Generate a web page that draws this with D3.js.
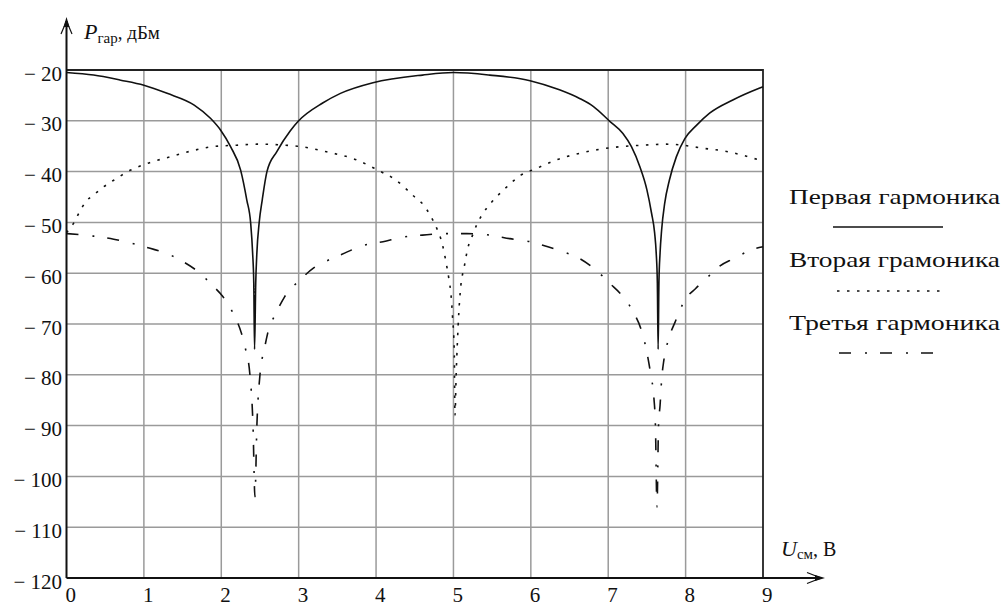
<!DOCTYPE html>
<html>
<head>
<meta charset="utf-8">
<script src="https://cdn.jsdelivr.net/npm/d3@7"></script>
<style>
  body { margin: 0; background: #fff; }
  svg, svg text { font-family: "Liberation Serif", "Times New Roman", Tinos, "DejaVu Serif", serif !important; }
</style>
</head>
<body>
<div id="chart"></div>
<script>
// values
const uTicks = [0, 1, 2, 3, 4, 5, 6, 7, 8, 9];
const pTicks = [-120, -110, -100, -90, -80, -70, -60, -50, -40, -30, -20];

// first harmonic
const u1 = [0, 0.35, 0.7, 1.0, 1.3, 1.65, 1.86, 1.99, 2.12, 2.25, 2.33, 2.38, 2.405, 2.42, 2.43,
  2.445, 2.46, 2.49, 2.53, 2.59, 2.72, 2.89, 3.0, 3.31, 3.54, 3.96, 4.6, 5.0, 5.47, 5.99,
  6.37, 6.63, 6.81, 7.02, 7.19, 7.3, 7.41, 7.5, 7.56, 7.6, 7.62, 7.635, 7.645, 7.655, 7.67,
  7.69, 7.73, 7.79, 7.88, 7.99, 8.14, 8.31, 8.61, 8.95, 9.0];
const p1 = [-20.5, -21, -22, -23, -24.6, -26.9, -29.5, -31.8, -35.1, -39.7, -45.6, -50.2, -56, -62, -75,
  -62, -56, -50, -45.5, -40, -36, -32, -30, -26.5, -24.6, -22.5, -21, -20.5, -21, -22.1,
  -23.9, -25.6, -27.2, -30.1, -32.5, -35.1, -39.1, -43.6, -48.2, -52.1, -56, -62, -75, -62, -56,
  -51.5, -46.2, -41.7, -37.1, -33.5, -30.9, -28.5, -25.9, -23.6, -23.3];

// second harmonic
const u2 = [0, 0.09, 0.16, 0.25, 0.35, 0.48, 0.61, 0.83, 1.04, 1.34, 1.65, 1.88, 2.2, 2.46, 2.98,
  3.36, 3.75, 4.02, 4.25, 4.5, 4.61, 4.7, 4.78, 4.86, 4.9, 4.94, 4.97, 4.99, 5.01, 5.02,
  5.035, 5.05, 5.07, 5.09, 5.14, 5.19, 5.24, 5.3, 5.37, 5.5, 5.58, 5.69, 5.87, 6.07, 6.33,
  6.63, 6.89, 7.15, 7.45, 7.75, 7.96, 8.22, 8.48, 8.72, 8.95, 9.0];
const p2 = [-52, -50.2, -48.2, -45.9, -44.6, -43, -41.7, -39.7, -38.4, -37.1, -35.8, -35.1, -34.8, -34.6, -35,
  -36.1, -37.7, -39.7, -41.6, -45, -46.5, -48.6, -51, -54.5, -57.5, -61, -64.5, -69, -75, -88,
  -80, -74, -67.6, -63.3, -58.7, -54.8, -52.8, -50.5, -48.5, -45.9, -44.6, -43, -40.7, -39.4, -37.7,
  -36.4, -35.6, -35.1, -34.8, -34.6, -34.8, -35.4, -35.9, -36.7, -37.7, -37.9];

// third harmonic
const u3 = [0, 0.35, 0.61, 0.84, 1.08, 1.34, 1.47, 1.7, 1.88, 2.02, 2.15, 2.26, 2.31, 2.37, 2.41,
  2.435, 2.46, 2.5, 2.56, 2.6, 2.71, 2.82, 3.02, 3.19, 3.36, 3.6, 3.82, 4.09, 4.35, 4.6,
  4.89, 5.17, 5.47, 5.73, 5.99, 6.22, 6.42, 6.63, 6.85, 7.02, 7.19, 7.33, 7.43, 7.5, 7.55,
  7.59, 7.61, 7.63, 7.65, 7.67, 7.69, 7.72, 7.78, 7.87, 7.99, 8.13, 8.27, 8.44, 8.61, 8.89, 9.0];
const p3 = [-52.2, -52.7, -53.3, -54.1, -55.1, -56.4, -57.4, -59.7, -62.3, -64.6, -67.8, -71.8, -74.7, -80, -90,
  -104, -90, -80, -74.7, -71.8, -67.8, -64.6, -61.3, -59, -57.6, -56, -54.6, -53.8, -52.9, -52.5,
  -52.2, -52.2, -52.5, -53.2, -53.8, -54.8, -55.8, -57.1, -59.5, -62, -64.6, -67.8, -71.3, -75.6, -80,
  -84.5, -90, -106, -90, -86, -81, -77, -73, -69.4, -65.3, -63, -61, -58.6, -57.2, -55.2, -54.8];

const legendNames = ["Первая гармоника", "Вторая грамоника", "Третья гармоника"];
const dashes = [null, "2.5,7.5", "12,14,2,13"];

let w = 1006, h = 606;

let svg = d3.select("#chart")
    .append("svg")
    .attr("width", w)
    .attr("height", h);

let x = d3.scaleLinear().domain([0, 9]).range([66.5, 763]);
let y = d3.scaleLinear().domain([-120, -20]).range([578, 70]);

// grid
let grid = svg.append("g").attr("stroke", "#9a9a9a").attr("stroke-width", 1.5);
grid.selectAll("line.v").data(uTicks.slice(1, -1)).enter().append("line")
    .attr("x1", d => x(d)).attr("x2", d => x(d))
    .attr("y1", y(-120)).attr("y2", y(-20));
grid.selectAll("line.h").data(pTicks.slice(1, -1)).enter().append("line")
    .attr("x1", x(0)).attr("x2", x(9))
    .attr("y1", d => y(d)).attr("y2", d => y(d));

// frame top / right
svg.append("path")
    .attr("d", "M" + x(0) + "," + y(-20) + " H" + x(9) + " V" + y(-120))
    .attr("fill", "none").attr("stroke", "#222").attr("stroke-width", 1.8);

// curves
const series = [[u1, p1], [u2, p2], [u3, p3]];
let line = d3.line()
    .x(d => x(d[0]))
    .y(d => y(d[1]))
    .curve(d3.curveMonotoneX);

series.forEach((s, i) => {
    let pts = s[0].map((u, j) => [u, s[1][j]]);
    svg.append("path")
        .datum(pts)
        .attr("d", line)
        .attr("fill", "none")
        .attr("stroke", "#111")
        .attr("stroke-width", 1.6)
        .attr("stroke-dasharray", dashes[i]);
});

// axes (labels only, lines drawn below)
let yAxis = svg.append("g")
    .attr("transform", "translate(" + x(0) + ",0)")
    .call(d3.axisLeft(y).tickValues(pTicks).tickSize(0).tickPadding(4.5)
        .tickFormat(d => "\u2212 " + Math.abs(d)));
yAxis.select(".domain").remove();
yAxis.attr("font-family", null);
yAxis.selectAll("text")
    .attr("dy", null)
    .attr("y", 10)
    .attr("fill", "#111")
    .style("font-size", "21px");

let xAxis = svg.append("g")
    .attr("transform", "translate(0," + y(-120) + ")")
    .call(d3.axisBottom(x).tickValues(uTicks).tickSize(0).tickFormat(d3.format("d")));
xAxis.select(".domain").remove();
xAxis.attr("font-family", null);
xAxis.selectAll("text")
    .attr("dy", null)
    .attr("y", 24)
    .attr("x", -1.5)
    .attr("text-anchor", "start")
    .attr("fill", "#111")
    .style("font-size", "21px");

// axis lines with arrows
let axisTop = 17, axisRight = 825;
svg.append("line")
    .attr("x1", x(0)).attr("x2", x(0)).attr("y1", y(-120)).attr("y2", axisTop + 4)
    .attr("stroke", "#111").attr("stroke-width", 2);
svg.append("line")
    .attr("x1", x(0)).attr("x2", axisRight - 4).attr("y1", y(-120)).attr("y2", y(-120))
    .attr("stroke", "#111").attr("stroke-width", 2);

svg.append("path")
    .attr("d", "M" + x(0) + "," + axisTop + " L" + (x(0) + 3) + "," + (axisTop + 10) +
        " L" + (x(0) - 3) + "," + (axisTop + 10) + " Z")
    .attr("fill", "#111");
svg.append("path")
    .attr("d", "M" + (x(0) - 5.5) + "," + (axisTop + 17) + " L" + x(0) + "," + (axisTop + 4) +
        " L" + (x(0) + 5.5) + "," + (axisTop + 17))
    .attr("fill", "none").attr("stroke", "#111").attr("stroke-width", 1.2);

svg.append("path")
    .attr("d", "M" + axisRight + "," + y(-120) + " L" + (axisRight - 10) + "," + (y(-120) - 3) +
        " L" + (axisRight - 10) + "," + (y(-120) + 3) + " Z")
    .attr("fill", "#111");
svg.append("path")
    .attr("d", "M" + (axisRight - 18) + "," + (y(-120) - 5.5) + " L" + (axisRight - 4) + "," + y(-120) +
        " L" + (axisRight - 18) + "," + (y(-120) + 5.5))
    .attr("fill", "none").attr("stroke", "#111").attr("stroke-width", 1.2);

// axis titles
let yt = svg.append("text").attr("x", 84).attr("y", 39).attr("fill", "#111");
yt.append("tspan").text("P").style("font-style", "italic").style("font-size", "22px");
yt.append("tspan").text("гар").attr("dy", 4).style("font-size", "15px");
yt.append("tspan").text(", дБм").attr("dy", -4).style("font-size", "19px");

let xt = svg.append("text").attr("x", 781).attr("y", 556).attr("fill", "#111");
xt.append("tspan").text("U").style("font-style", "italic").style("font-size", "22px");
xt.append("tspan").text("см").attr("dy", 3).style("font-size", "15px");
xt.append("tspan").text(", B").attr("dy", -3).style("font-size", "20px");

// legend
const legBase = [204, 267, 330];
const legLine = [[833, 943, 227], [837, 940, 291], [839, 933, 353]];
legendNames.forEach((name, i) => {
    svg.append("text")
        .attr("x", 789).attr("y", legBase[i])
        .attr("fill", "#111")
        .attr("textLength", 211)
        .attr("lengthAdjust", "spacingAndGlyphs")
        .style("font-size", "21px")
        .text(name);
    svg.append("line")
        .attr("x1", legLine[i][0]).attr("x2", legLine[i][1])
        .attr("y1", legLine[i][2]).attr("y2", legLine[i][2])
        .attr("stroke", "#111").attr("stroke-width", 1.6)
        .attr("stroke-dasharray", dashes[i]);
});
</script>
</body>
</html>
